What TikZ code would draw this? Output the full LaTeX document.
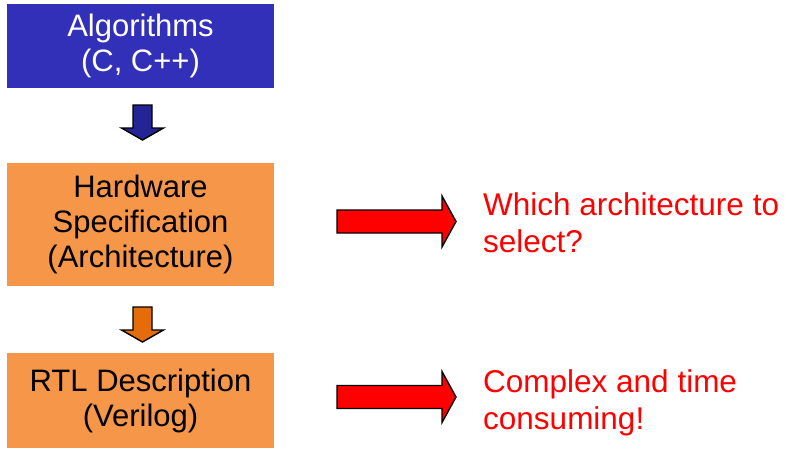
\documentclass[tikz,border=0pt]{standalone}
\usepackage{fontspec}
\setmainfont{Liberation Sans}
\definecolor{algoblue}{RGB}{50,48,184}
\definecolor{arrowblue}{RGB}{36,36,150}
\definecolor{boxorange}{RGB}{246,150,72}
\definecolor{arroworange}{RGB}{228,108,10}
\definecolor{notered}{RGB}{255,0,0}
\tikzset{
  flowbox/.style={rectangle, inner sep=0pt, minimum width=267pt,
    align=center, font=\fontsize{31}{35}\selectfont},
  remark/.style={anchor=north west, inner sep=0pt, align=left,
    text=notered, font=\fontsize{31.5}{37}\selectfont},
  blockline/.style={draw=black, line width=1.4pt, line join=miter},
  pics/downarrow/.style={code={
    \draw[blockline, fill=#1] (-9.5,0) -- (9.5,0) -- (9.5,23) -- (21,23)
      -- (0,35) -- (-21,23) -- (-9.5,23) -- cycle;}},
  pics/rightarrow/.style={code={
    \draw[blockline, fill=notered] (0,-11.5) -- (105,-11.5) -- (105,-25.5)
      -- (119,0) -- (105,25.5) -- (105,11.5) -- (0,11.5) -- cycle;}}
}
\begin{document}
\begin{tikzpicture}[x=1pt, y=-1pt]
  \useasboundingbox (0,0) rectangle (786,448);

  % the three stages of the design flow
  \node[flowbox, fill=algoblue, text=white, minimum height=84pt]
    (algo) at (140.5,46) {Algorithms\\(C, C++)};
  \node[flowbox, fill=boxorange, minimum height=123pt]
    (spec) at (140.5,224) {Hardware\\Specification\\(Architecture)};
  \node[flowbox, fill=boxorange, minimum height=95pt]
    (rtl) at (140.5,400.5) {RTL Description\\(Verilog)};

  % block arrows between the stages
  \pic (down1) at (142.5,105) {downarrow=arrowblue};
  \pic (down2) at (142.5,307) {downarrow=arroworange};

  % remarks on the right
  \pic (hint1) at (337,221.5) {rightarrow};
  \pic (hint2) at (337,397) {rightarrow};
  \node[remark] (q1) at (483,192) {Which architecture to\\select?};
  \node[remark] (q2) at (483,369) {Complex and time\\consuming!};
\end{tikzpicture}
\end{document}
